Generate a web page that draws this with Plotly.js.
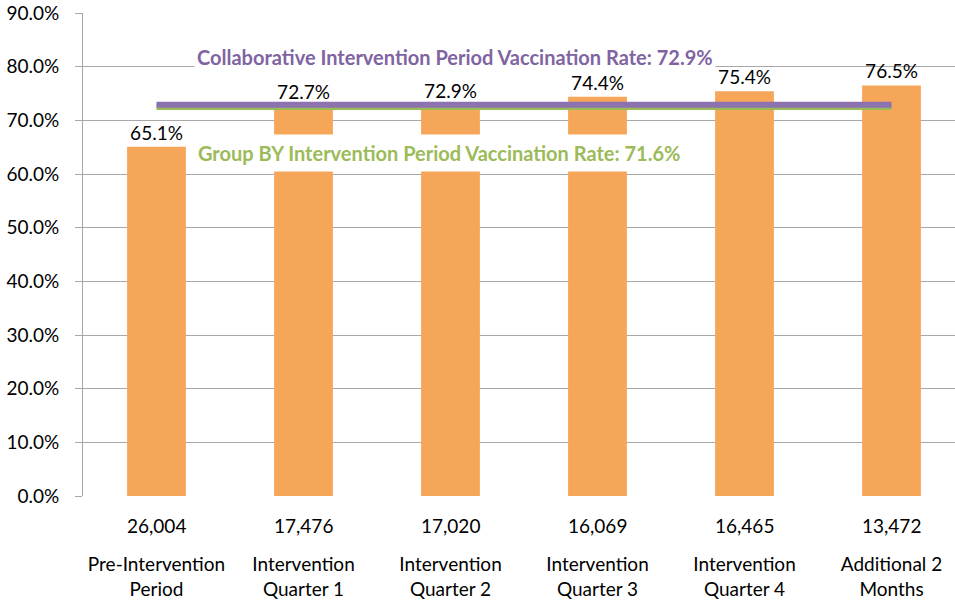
<!DOCTYPE html>
<html>
<head>
<meta charset="utf-8">
<script src="https://cdn.plot.ly/plotly-3.0.1.min.js"></script>
<style>html,body{margin:0;padding:0;background:#fff;}#chart{width:955px;height:601px;}</style>
</head>
<body>
<div id="chart"></div>
<script>
const categories = ["Pre-Intervention<br>Period", "Intervention<br>Quarter 1", "Intervention<br>Quarter 2", "Intervention<br>Quarter 3", "Intervention<br>Quarter 4", "Additional 2<br>Months"];
const counts = ["26,004", "17,476", "17,020", "16,069", "16,465", "13,472"];
const rates = [65.1, 72.7, 72.9, 74.4, 75.4, 76.5];
const collaborativeRate = 72.9;
const groupByRate = 71.6;
const groupByLineDrawn = 72.5;
const collaborativeLabel = "Collaborative Intervention Period Vaccination Rate: 72.9%";
const groupByLabel = "Group BY Intervention Period Vaccination Rate: 71.6%";

const FONT = "Lato, 'Open Sans', sans-serif";
const FS = 19;
const idx = categories.map((_, i) => i);

const traces = [
  {
    type: "bar", x: idx, y: rates,
    marker: {color: "#F6A658"},
    width: 0.4,
    text: rates.map(v => v.toFixed(1) + "%"),
    textposition: "outside",
    textfont: {family: FONT, size: FS, color: "#000"},
    cliponaxis: false,
    hoverinfo: "skip"
  },
  {
    type: "scatter", mode: "lines",
    x: [idx[0], idx[idx.length - 1]], y: [groupByLineDrawn, groupByLineDrawn],
    line: {color: "#9BBB59", width: 6},
    hoverinfo: "skip"
  },
  {
    type: "scatter", mode: "lines",
    x: [idx[0], idx[idx.length - 1]], y: [collaborativeRate, collaborativeRate],
    line: {color: "#8C72AE", width: 6},
    hoverinfo: "skip"
  }
];

const annotations = counts.map((c, i) => ({
  x: i, y: 0, xref: "x", yref: "paper", yanchor: "middle", yshift: -29,
  text: c, showarrow: false, font: {family: FONT, size: FS, color: "#000"}
}));
annotations.push({
  x: 2.03, y: 81.8, xref: "x", yref: "y", text: "<b>" + collaborativeLabel + "</b>",
  showarrow: false, font: {family: FONT, size: 20, color: "#8064A2"}, bgcolor: "#fff", borderpad: 2
});
annotations.push({
  x: 1.92, y: 63.9, xref: "x", yref: "y", text: "<b>" + groupByLabel + "</b>",
  showarrow: false, font: {family: FONT, size: 20, color: "#9BBB59"}, bgcolor: "#fff", borderpad: 6
});

const layout = {
  width: 955, height: 601,
  margin: {l: 83, r: 0, t: 13, b: 105},
  paper_bgcolor: "#fff", plot_bgcolor: "#fff",
  showlegend: false,
  font: {family: FONT, size: FS, color: "#000"},
  xaxis: {
    type: "linear", range: [-0.5, 5.432],
    tickmode: "array", tickvals: idx, ticktext: categories,
    showgrid: false, zeroline: false, showline: false, ticks: "",
    ticklabelstandoff: 55,
    tickfont: {family: FONT, size: FS, color: "#000"}
  },
  yaxis: {
    range: [0, 90], dtick: 10, tick0: 0,
    tickformat: ".1f", ticksuffix: "%",
    showgrid: true, gridcolor: "#A8A8A8", gridwidth: 1,
    zeroline: false,
    showline: true, linecolor: "#A8A8A8", linewidth: 1,
    ticks: "outside", ticklen: 7, tickcolor: "#A8A8A8",
    ticklabelstandoff: 12,
    tickfont: {family: FONT, size: FS, color: "#000"}
  },
  annotations: annotations
};

Plotly.newPlot("chart", traces, layout, {displayModeBar: false, staticPlot: true});
</script>
</body>
</html>
